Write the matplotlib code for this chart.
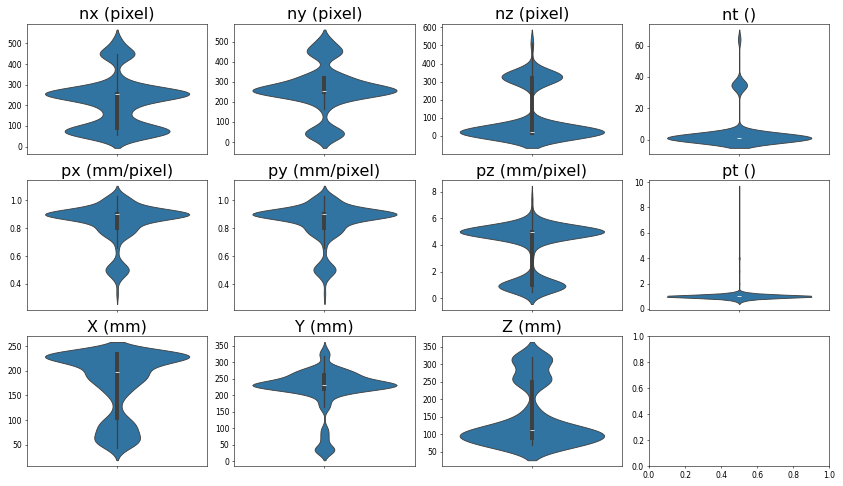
import numpy as np
import matplotlib
matplotlib.use("Agg")
import matplotlib.pyplot as plt
import seaborn as sns

# each column is summarised as a set of values and how often they occur
nx_vals = [55, 64, 75, 90, 110, 130, 160, 192, 220, 256, 290, 330, 448, 506]
nx_counts = [40, 100, 110, 70, 25, 15, 30, 40, 40, 380, 50, 20, 100, 25]

ny_vals = [32, 48, 64, 165, 200, 230, 250, 256, 290, 320, 330, 448, 500]
ny_counts = [60, 50, 20, 10, 40, 30, 50, 330, 60, 60, 50, 100, 40]

nz_vals = [10, 16, 24, 40, 60, 300, 320, 340, 512]
nz_counts = [150, 150, 150, 80, 40, 30, 100, 110, 10]

nt_vals = [1, 2, 3, 34, 36, 64]
nt_counts = [800, 60, 30, 60, 40, 15]

px_vals = [0.33, 0.45, 0.5, 0.55, 0.66, 0.75, 0.8, 0.85, 0.9, 0.95, 1.0, 1.03]
px_counts = [5, 20, 60, 20, 10, 60, 80, 60, 420, 60, 60, 20]

py_vals = [0.33, 0.45, 0.5, 0.55, 0.66, 0.75, 0.8, 0.85, 0.9, 0.95, 1.0, 1.03]
py_counts = [5, 15, 60, 20, 10, 60, 80, 60, 430, 60, 60, 20]

pz_vals = [0.5, 0.8, 1.0, 1.3, 1.7, 3.0, 4.0, 4.5, 5.0, 5.5, 6.0, 7.5]
pz_counts = [20, 140, 140, 30, 15, 10, 20, 60, 600, 60, 20, 5]

pt_vals = [0.6, 0.7, 0.8, 0.9, 1.0, 1.1, 1.2, 1.3, 2, 3, 4, 5, 9.5]
pt_counts = [10, 30, 60, 100, 600, 100, 60, 30, 3, 3, 5, 2, 1]

X_vals = [43, 55, 65, 75, 85, 95, 105, 120, 135, 150, 165, 180, 192,
          205, 215, 225, 234]
X_counts = [100, 250, 150, 150, 150, 150, 80, 40, 30, 100, 200, 250, 350,
            200, 250, 500, 1050]

Y_vals = [30, 40, 70, 95, 165, 185, 205, 220, 232, 245, 262, 280, 320, 335]
Y_counts = [100, 100, 60, 60, 80, 60, 150, 400, 900, 250, 400, 250, 70, 40]

Z_vals = [70, 90, 100, 112, 125, 145, 170, 250, 265, 310, 320]
Z_counts = [200, 100, 200, 100, 80, 40, 30, 80, 60, 60, 80]

titles = ["nx (pixel)", "ny (pixel)", "nz (pixel)", "nt ()",
          "px (mm/pixel)", "py (mm/pixel)", "pz (mm/pixel)", "pt ()",
          "X (mm)", "Y (mm)", "Z (mm)"]
columns = [(nx_vals, nx_counts), (ny_vals, ny_counts), (nz_vals, nz_counts),
           (nt_vals, nt_counts), (px_vals, px_counts), (py_vals, py_counts),
           (pz_vals, pz_counts), (pt_vals, pt_counts), (X_vals, X_counts),
           (Y_vals, Y_counts), (Z_vals, Z_counts)]

plt.rcParams["xtick.labelsize"] = 11
plt.rcParams["ytick.labelsize"] = 11

fig, axes = plt.subplots(3, 4, figsize=(16.86, 9.72))
axes = axes.flatten()

for i, (vals, counts) in enumerate(columns):
    data = np.repeat(vals, counts)
    sns.violinplot(y=data, ax=axes[i])
    axes[i].set_title(titles[i], fontsize=23)

plt.tight_layout()
plt.savefig("out.png", dpi=50)
